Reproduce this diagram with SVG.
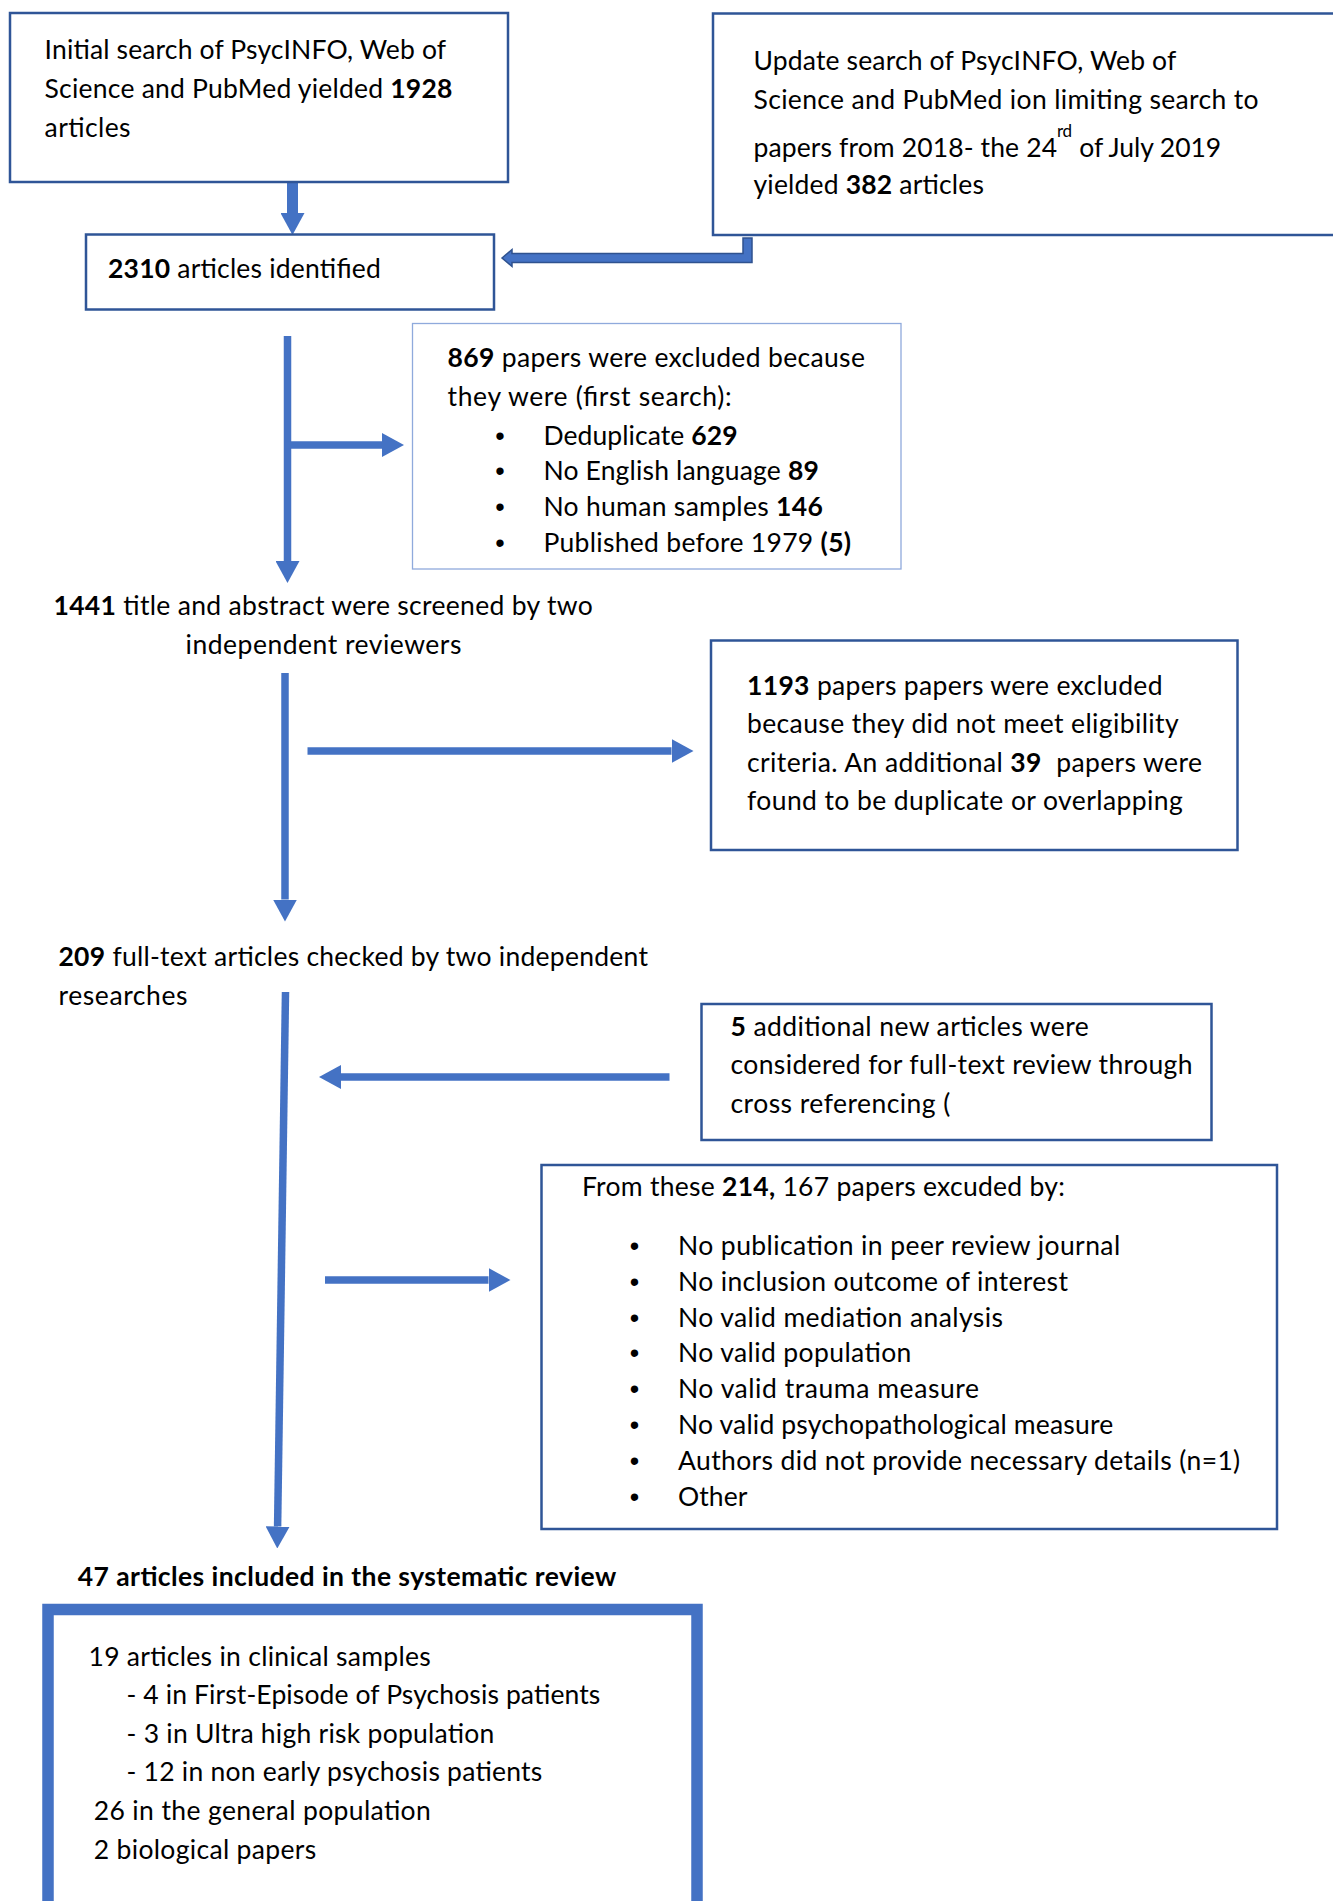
<svg xmlns="http://www.w3.org/2000/svg" width="1333" height="1901" viewBox="0 0 1333 1901">
<style>
.t{font-family:Lato,"Liberation Sans",sans-serif;font-size:26.5px;fill:#000}
.b{font-weight:bold}
.bul{font-family:"Liberation Sans",sans-serif;font-size:27px;fill:#000;text-anchor:middle}
.box{fill:#fff;stroke:#2F5597;stroke-width:2.5}
.lbox{fill:#fff;stroke:#8FAADC;stroke-width:1.3}
.fbox{fill:#fff;stroke:#4472C4;stroke-width:11.5}
.ln{fill:none;stroke:#4472C4;stroke-width:7.5;marker-end:url(#ah)}
</style>
<defs>
<marker id="ah" markerUnits="userSpaceOnUse" viewBox="0 0 22 24" markerWidth="22" markerHeight="24" refX="0" refY="12" orient="auto">
<path d="M0,0 L22,12 L0,24 z" fill="#4472C4"/>
</marker>
</defs>
<rect width="1333" height="1901" fill="#fff"/>

<g id="connectors">
<path class="ln" d="M292.5,182 V213" style="stroke-width:11"/>
<path class="ln" d="M287.5,336 V561"/>
<path class="ln" d="M287.5,445 H382"/>
<path class="ln" d="M285,673 V899.5"/>
<path class="ln" d="M307.5,751 H671.5"/>
<path class="ln" d="M669.5,1077 H341"/>
<path class="ln" d="M285.5,992 L277.6,1526.5"/>
<path class="ln" d="M325,1280 H488.5"/>
<path d="M502,258 L512,249.5 L512,253.5 L743,253.5 L743,238 L752,238 L752,262.5 L512,262.5 L512,266.5 Z" fill="#4472C4" stroke="#2F528F" stroke-width="1.5"/>
</g>

<g id="n-initial">
<rect class="box" x="10" y="13" width="498" height="169"/>
<text class="t" x="44.6" y="59.3" textLength="401.5">Initial search of PsycINFO, Web of</text>
<text class="t" x="44.6" y="97.9" textLength="407.8">Science and PubMed yielded <tspan class="b">1928</tspan></text>
<text class="t" x="44.6" y="136.5" textLength="85.9">articles</text>
</g>

<g id="n-update">
<rect class="box" x="713" y="13.5" width="640" height="221.5"/>
<text class="t" x="753.5" y="70" textLength="422.8">Update search of PsycINFO, Web of</text>
<text class="t" x="753.5" y="109" textLength="505.1">Science and PubMed ion limiting search to</text>
<text class="t" x="753.5" y="157" textLength="303.5">papers from 2018- the 24</text>
<text class="t" x="1057" y="137" style="font-size:17px" textLength="15">rd</text>
<text class="t" x="1079.3" y="157" textLength="141.8">of July 2019</text>
<text class="t" x="753.5" y="194" textLength="230.4">yielded <tspan class="b">382</tspan> articles</text>
</g>

<g id="n-identified">
<rect class="box" x="86" y="234.5" width="408" height="75"/>
<text class="t" x="108" y="277.5" textLength="272.8"><tspan class="b">2310</tspan> articles identified</text>
</g>

<g id="n-excluded1">
<rect class="lbox" x="412.5" y="323.5" width="488.5" height="245.5"/>
<text class="t" x="447.5" y="367" textLength="417.4"><tspan class="b">869</tspan> papers were excluded because</text>
<text class="t" x="447.5" y="405.6" textLength="284.1">they were (first search):</text>
<text class="bul" x="500" y="444.5">•</text>
<text class="bul" x="500" y="480.3">•</text>
<text class="bul" x="500" y="516.1">•</text>
<text class="bul" x="500" y="551.9">•</text>
<text class="t" x="543.4" y="444.5" textLength="194.2">Deduplicate <tspan class="b">629</tspan></text>
<text class="t" x="543.4" y="480.3" textLength="275.4">No English language <tspan class="b">89</tspan></text>
<text class="t" x="543.4" y="516.1" textLength="279.4">No human samples <tspan class="b">146</tspan></text>
<text class="t" x="543.4" y="551.9" textLength="307.7">Published before 1979 <tspan class="b">(5)</tspan></text>
</g>

<g id="n-screened">
<text class="t" x="53.5" y="615" textLength="539.2"><tspan class="b">1441</tspan> title and abstract were screened by two</text>
<text class="t" x="185.6" y="653.5" textLength="275.8">independent reviewers</text>
</g>

<g id="n-excluded2">
<rect class="box" x="711" y="640.5" width="526.5" height="209.5"/>
<text class="t" x="747" y="694.5" textLength="415.5"><tspan class="b">1193</tspan> papers papers were excluded</text>
<text class="t" x="747" y="733.1" textLength="431.6">because they did not meet eligibility</text>
<text class="t" x="747" y="771.7" textLength="454.9" xml:space="preserve">criteria. An additional <tspan class="b">39</tspan>  papers were</text>
<text class="t" x="747" y="810.3" textLength="435.8">found to be duplicate or overlapping</text>
</g>

<g id="n-fulltext">
<text class="t" x="58.5" y="966" textLength="589.4"><tspan class="b">209</tspan> full-text articles checked by two independent</text>
<text class="t" x="58.5" y="1004.5" textLength="129">researches</text>
</g>

<g id="n-additional">
<rect class="box" x="701.5" y="1004" width="510" height="136"/>
<text class="t" x="730.5" y="1035.5" textLength="358.2"><tspan class="b">5</tspan> additional new articles were</text>
<text class="t" x="730.5" y="1074" textLength="462">considered for full-text review through</text>
<text class="t" x="730.5" y="1112.6" textLength="219.9">cross referencing (</text>
</g>

<g id="n-excluded3">
<rect class="box" x="541.5" y="1165" width="735.5" height="364"/>
<text class="t" x="582" y="1196" textLength="482.8">From these <tspan class="b">214,</tspan> 167 papers excuded by:</text>
<text class="bul" x="634.4" y="1255">•</text>
<text class="bul" x="634.4" y="1290.8">•</text>
<text class="bul" x="634.4" y="1326.6">•</text>
<text class="bul" x="634.4" y="1362.4">•</text>
<text class="bul" x="634.4" y="1398.2">•</text>
<text class="bul" x="634.4" y="1434">•</text>
<text class="bul" x="634.4" y="1469.8">•</text>
<text class="bul" x="634.4" y="1505.6">•</text>
<text class="t" x="678" y="1255" textLength="442.2">No publication in peer review journal</text>
<text class="t" x="678" y="1290.8" textLength="389.9">No inclusion outcome of interest</text>
<text class="t" x="678" y="1326.6" textLength="324.9">No valid mediation analysis</text>
<text class="t" x="678" y="1362.4" textLength="233.4">No valid population</text>
<text class="t" x="678" y="1398.2" textLength="300.9">No valid trauma measure</text>
<text class="t" x="678" y="1434" textLength="435.2">No valid psychopathological measure</text>
<text class="t" x="678" y="1469.8" textLength="562.2">Authors did not provide necessary details (n=1)</text>
<text class="t" x="678" y="1505.6" textLength="69.4">Other</text>
</g>

<g id="n-included">
<text class="t b" x="77.8" y="1585.5" textLength="538.4">47 articles included in the systematic review</text>
<rect class="fbox" x="48" y="1609.5" width="649" height="300"/>
<text class="t" x="88.5" y="1665.5" textLength="342.3">19 articles in clinical samples</text>
<text class="t" x="126.5" y="1704.1" textLength="473.8">- 4 in First-Episode of Psychosis patients</text>
<text class="t" x="126.5" y="1742.7" textLength="367.9">- 3 in Ultra high risk population</text>
<text class="t" x="126.5" y="1781.3" textLength="415.7">- 12 in non early psychosis patients</text>
<text class="t" x="93.7" y="1819.9" textLength="337.1">26 in the general population</text>
<text class="t" x="93.7" y="1858.5" textLength="222.5">2 biological papers</text>
</g>
</svg>
